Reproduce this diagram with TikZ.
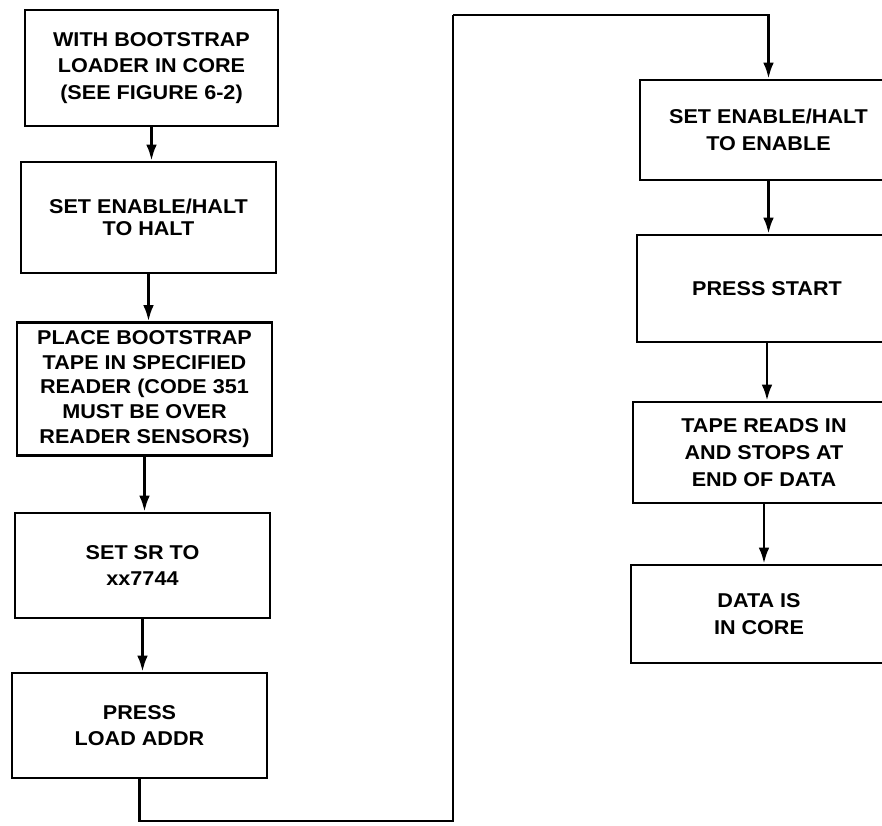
\documentclass[tikz,border=0pt]{standalone}
\usepackage{fontspec}
\setmainfont[FakeStretch=1.08]{Liberation Sans}
\usetikzlibrary{arrows.meta}
\tikzset{
  box/.style 2 args={draw, line width=2pt, align=center, inner sep=0pt,
    font=\bfseries\fontsize{15}{20}\selectfont,
    minimum width=#1*0.75pt, minimum height=#2*0.75pt},
  flow/.style={line width=2pt, -{Latex[length=12pt,width=8pt]}},
  wire/.style={line width=1.8pt}
}
\begin{document}
\begin{tikzpicture}[x=0.75pt,y=-0.75pt]
\useasboundingbox (0,0) rectangle (882,825);
\clip (0,0) rectangle (882,825);
\fill[white] (0,0) rectangle (882,825);
% left column
\node[box={253}{116}] (a) at (151.5,68) {WITH BOOTSTRAP\\LOADER IN CORE\\(SEE FIGURE 6-2)};
\node[box={255}{111}, font=\bfseries\fontsize{15}{16.5}\selectfont, text depth=-10pt] (b) at (148.5,217.5) {SET ENABLE/HALT\\TO HALT};
\node[box={255}{133}, font=\bfseries\fontsize{15}{18.5}\selectfont] (c) at (144.5,389) {PLACE BOOTSTRAP\\TAPE IN SPECIFIED\\READER (CODE 351\\MUST BE OVER\\READER SENSORS)};
\node[box={255}{105}] (d) at (142.5,565.5) {SET SR TO\\xx7744};
\node[box={255}{105}] (e) at (139.5,725.5) {PRESS\\LOAD ADDR};
% right column
\node[box={257}{100}] (f) at (768.5,130) {SET ENABLE/HALT\\TO ENABLE};
\node[box={260}{107}] (g) at (767,288.5) {PRESS START};
\node[box={262}{101}] (h) at (764,452.5) {TAPE READS IN\\AND STOPS AT\\END OF DATA};
\node[box={256}{98}] (i) at (759,614) {DATA IS\\IN CORE};
% connectors
\draw[flow] (a.south) -- (a.south |- b.north);
\draw[flow] (b.south) -- (b.south |- c.north);
\draw[flow] (c.south) -- (c.south |- d.north);
\draw[flow] (d.south) -- (d.south |- e.north);
\coordinate (c1) at (453,821);
\coordinate (c2) at (453,15);
\draw[wire] (e.south) |- (c1) -- (c2);
\draw[flow] (c2) -| (f.north);
\draw[flow] (f.south) -- (f.south |- g.north);
\draw[flow] (g.south) -- (g.south |- h.north);
\draw[flow] (h.south) -- (h.south |- i.north);
\end{tikzpicture}
\end{document}
